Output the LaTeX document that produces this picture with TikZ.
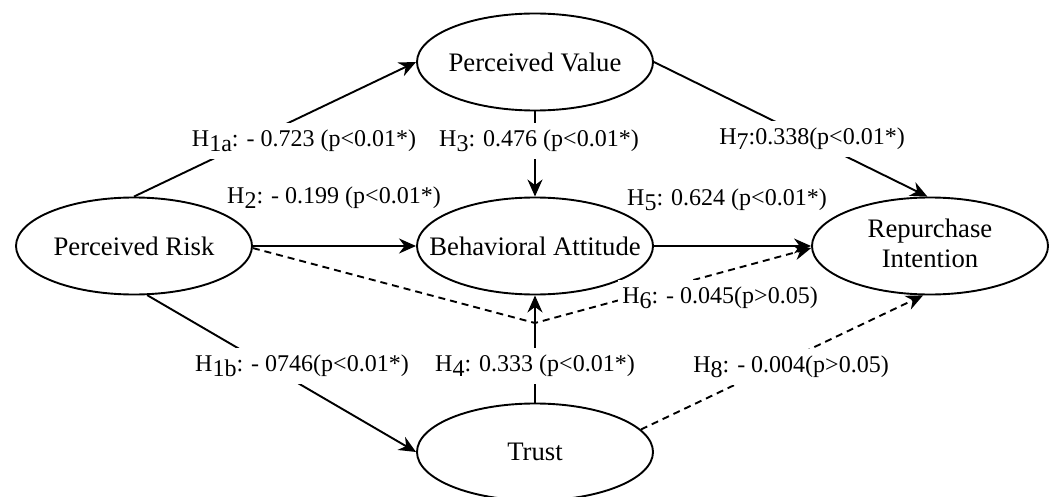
\documentclass[tikz,border=0pt]{standalone}
\usepackage{fontspec}
\setmainfont{Liberation Serif}
\usetikzlibrary{shapes.geometric,arrows.meta}
\newcommand{\sbs}[1]{\raisebox{-5pt}{#1}}
\begin{document}
\begin{tikzpicture}[x=1pt,y=-1pt,
  ell/.style={draw, ellipse, line width=1.9pt, minimum width=236pt, minimum height=97pt, inner sep=0pt, font=\fontsize{26.7}{30}\selectfont},
  lab/.style={font=\fontsize{24}{28}\selectfont, inner sep=0pt},
  onlab/.style={lab, fill=white, inner xsep=4pt, inner ysep=7pt},
  con/.style={line width=1.9pt},
  arr/.style={con, -{Stealth[length=17pt,width=15pt]}},
  darr/.style={arr, dash pattern=on 7pt off 5pt}]
\useasboundingbox (0,0) rectangle (1054,497);
\node[ell] (pv) at (535,62) {\makebox[0pt]{Perceived Value}};
\node[ell] (pr) at (134,246) {\makebox[0pt]{Perceived Risk}};
\node[ell] (ba) at (535,246) {\makebox[0pt]{Behavioral Attitude}};
\node[ell] (ri) at (930,246) {\makebox[0pt]{\begin{tabular}{@{}c@{}}Repurchase\\Intention\end{tabular}}};
\node[ell] (tr) at (535,452) {\makebox[0pt]{Trust}};
\coordinate (dip) at (535,323);
\draw[arr] (pr.north) -- (pv.west);
\draw[arr] (pr.-75) -- (tr.west);
\draw[arr] (pr.east) -- (ba.west);
\draw[arr] (pv.south) -- (ba.north);
\draw[arr] (tr.north) -- (ba.south);
\draw[arr] (ba.east) -- (ri.west);
\draw[arr] (pv.east) -- (ri.93);
\draw[darr] (pr.-1) -- (dip) -- (ri.181);
\draw[darr] (tr.12) -- (ri.-98);
\node[onlab] (h1a) at (304,141) {H\sbs{1a}: - 0.723 (p<0.01*)};
\node[lab] (h2) at (334,198) {H\sbs{2}: - 0.199 (p<0.01*)};
\node[onlab] (h1b) at (302,366) {H\sbs{1b}: - 0746(p<0.01*)};
\node[onlab] (h3) at (539,141) {H\sbs{3}: 0.476 (p<0.01*)};
\node[onlab] (h4) at (535,366) {H\sbs{4}: 0.333 (p<0.01*)};
\node[lab] (h5) at (727,200) {H\sbs{5}: 0.624 (p<0.01*)};
\node[onlab] (h7) at (812,139) {H\sbs{7}:0.338(p<0.01*)};
\node[onlab] (h6) at (720,298) {H\sbs{6}: - 0.045(p>0.05)};
\node[onlab] (h8) at (791,367) {H\sbs{8}: - 0.004(p>0.05)};
\end{tikzpicture}
\end{document}
